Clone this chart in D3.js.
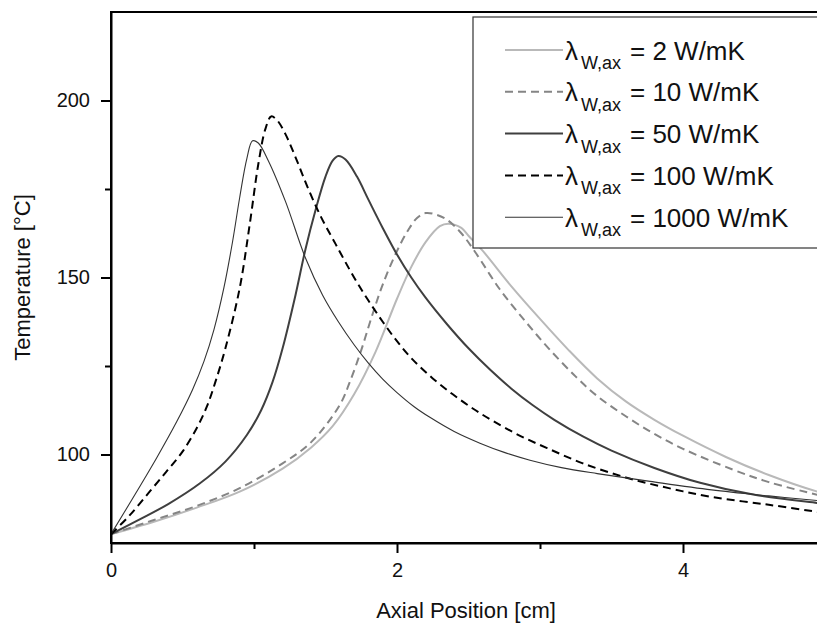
<!DOCTYPE html>
<html>
<head>
<meta charset="utf-8">
<script src="https://cdn.jsdelivr.net/npm/d3@7"></script>
<style>
    body { margin: 0; background: #fff; }
    text { font-family: "Liberation Sans", Arial, sans-serif; }
</style>
</head>
<body>
<svg id="chart" width="817" height="628"></svg>
<script>
// axial position [cm], temperature [°C]
const lambda2 = [[0, 77.5], [0.3, 81], [0.6, 85], [0.9, 89.5], [1.2, 96], [1.4, 102], [1.55, 108], [1.7, 117],
    [1.85, 129], [2.0, 144], [2.1, 153], [2.2, 160], [2.3, 164.5], [2.36, 165.2], [2.45, 164], [2.5, 161.8],
    [2.6, 157.5], [2.8, 147.5], [3.0, 138.3], [3.2, 129.5], [3.4, 121.5], [3.6, 115], [3.8, 109.8], [4.0, 105.3],
    [4.3, 99.3], [4.6, 94.2], [4.94, 89.5], [5, 88.9]]
const lambda10 = [[0, 77.5], [0.3, 81.5], [0.6, 85.5], [0.9, 90.5], [1.2, 97.5], [1.4, 103.5], [1.6, 114], [1.67, 120.5],
    [1.75, 129.5], [1.82, 138.5], [1.9, 148], [2.0, 157.5], [2.08, 163.5], [2.14, 166.8], [2.2, 168.2], [2.27, 167.8],
    [2.35, 166.3], [2.45, 162.5], [2.55, 157], [2.72, 146.6], [2.9, 137.5], [3.06, 130], [3.25, 122], [3.4, 116.5],
    [3.6, 110.8], [3.8, 105.8], [4.0, 101.6], [4.35, 95.7], [4.6, 92.2], [4.94, 88.6], [5, 88]]
const lambda50 = [[0, 77.5], [0.15, 80.6], [0.4, 86], [0.62, 91.8], [0.8, 98], [0.95, 105.5], [1.05, 112.5], [1.13, 120.5],
    [1.2, 130], [1.29, 145], [1.36, 158], [1.43, 169], [1.5, 178.5], [1.55, 183], [1.59, 184.3], [1.64, 183.3],
    [1.72, 178.5], [1.8, 172], [1.9, 164], [2.0, 156.5], [2.1, 150], [2.2, 144.3], [2.35, 136.8], [2.5, 130],
    [2.65, 124], [2.8, 118.6], [2.95, 113.9], [3.1, 109.8], [3.3, 105.1], [3.5, 101.1], [3.8, 96.2], [4.12, 92],
    [4.5, 88.6], [4.94, 86.3], [5, 86]]
const lambda100 = [[0, 77.5], [0.13, 82.8], [0.27, 89.5], [0.39, 95.3], [0.5, 100.8], [0.6, 107.5], [0.67, 113.5], [0.73, 120.5],
    [0.8, 130], [0.9, 147], [0.97, 165], [1.03, 182], [1.08, 192], [1.12, 195.5], [1.16, 194.5], [1.22, 190.5],
    [1.3, 183], [1.38, 175], [1.47, 167], [1.57, 159.5], [1.7, 150], [1.8, 143.5], [1.9, 137.5], [2.0, 132],
    [2.11, 126.8], [2.25, 121.5], [2.39, 117], [2.53, 113], [2.67, 109.5], [2.85, 105.5], [3.05, 101.8], [3.3, 97.5],
    [3.6, 93.5], [3.9, 90.5], [4.2, 88], [4.6, 85.8], [4.94, 83.8], [5, 83.5]]
const lambda1000 = [[0, 77.5], [0.15, 87.5], [0.32, 99.1], [0.46, 109.3], [0.57, 118.3], [0.65, 126.3], [0.72, 135.3], [0.79, 147.2],
    [0.85, 160.1], [0.9, 172.6], [0.95, 183.6], [0.99, 188.6], [1.03, 188], [1.1, 183], [1.22, 171.5], [1.36, 155.5],
    [1.48, 145], [1.59, 137.5], [1.7, 131], [1.8, 125.8], [1.9, 121.3], [2.0, 117.5], [2.12, 113.5], [2.23, 110.5],
    [2.4, 106.5], [2.58, 103.2], [2.75, 100.6], [2.93, 98.4], [3.15, 96.3], [3.4, 94.6], [3.77, 92.4], [4.2, 90],
    [4.6, 88.3], [4.94, 87], [5, 86.8]]

const legendValues = ['2', '10', '50', '100', '1000']
const xTicks = [0, 2, 4]
const xMinorTicks = [1, 3]
const yTicks = [100, 150, 200]
const yMinorTicks = [125, 175]

const seriesStyles = [
    { data: lambda2, color: '#b9b9b9', width: 2, dash: null },
    { data: lambda10, color: '#858585', width: 2, dash: '8,5' },
    { data: lambda50, color: '#3f3f3f', width: 2, dash: null },
    { data: lambda100, color: '#000', width: 2, dash: '8,5' },
    { data: lambda1000, color: '#333', width: 1.1, dash: null }
]

const svg = d3.select('#chart')
const plot = { left: 111, right: 826, top: 12, bottom: 543 }

const x = d3.scaleLinear().domain([0, 5]).range([plot.left, plot.right])
const y = d3.scaleLinear().domain([75, 225]).range([plot.bottom, plot.top])

svg.append('rect').attr('width', 817).attr('height', 628).attr('fill', '#fff')

svg.append('clipPath').attr('id', 'plot-clip')
    .append('rect')
    .attr('x', plot.left).attr('y', plot.top)
    .attr('width', plot.right - plot.left).attr('height', plot.bottom - plot.top)

const line = d3.line()
    .x(d => x(d[0]))
    .y(d => y(d[1]))
    .curve(d3.curveCatmullRom.alpha(0.5))

svg.append('g')
    .attr('clip-path', 'url(#plot-clip)')
    .selectAll('path')
    .data(seriesStyles)
    .join('path')
    .attr('d', d => line(d.data))
    .attr('fill', 'none')
    .attr('stroke', d => d.color)
    .attr('stroke-width', d => d.width)
    .attr('stroke-dasharray', d => d.dash)

// frame
svg.append('rect')
    .attr('x', plot.left).attr('y', plot.top)
    .attr('width', plot.right - plot.left).attr('height', plot.bottom - plot.top)
    .attr('fill', 'none')
    .attr('stroke', '#000')
    .attr('stroke-width', 2)

const styleAxis = (g, fontSize) => {
    g.selectAll('path, line').attr('stroke', '#000').attr('stroke-width', 2)
    g.selectAll('text').attr('font-size', fontSize).attr('fill', '#111')
        .style('font-family', '"Liberation Sans", Arial, sans-serif')
}

svg.append('g')
    .attr('transform', `translate(0, ${plot.bottom})`)
    .call(d3.axisBottom(x).tickValues(xTicks).tickFormat(d3.format('d')).tickSize(10).tickSizeOuter(0).tickPadding(10))
    .call(g => styleAxis(g, 20))

svg.append('g')
    .attr('transform', `translate(0, ${plot.bottom})`)
    .call(d3.axisBottom(x).tickValues(xMinorTicks).tickSize(6).tickFormat(''))
    .call(g => g.select('.domain').remove())
    .call(g => styleAxis(g, 20))

svg.append('g')
    .attr('transform', `translate(${plot.left}, 0)`)
    .call(d3.axisLeft(y).tickValues(yTicks).tickFormat(d3.format('d')).tickSize(10).tickSizeOuter(0).tickPadding(11))
    .call(g => styleAxis(g, 20))

svg.append('g')
    .attr('transform', `translate(${plot.left}, 0)`)
    .call(d3.axisLeft(y).tickValues(yMinorTicks).tickSize(6).tickFormat(''))
    .call(g => g.select('.domain').remove())
    .call(g => styleAxis(g, 20))

svg.append('text')
    .attr('x', 466).attr('y', 618)
    .attr('text-anchor', 'middle')
    .attr('font-size', 22)
    .attr('fill', '#111')
    .text('Axial Position [cm]')

svg.append('text')
    .attr('transform', `translate(30, ${(plot.top + plot.bottom) / 2}) rotate(-90)`)
    .attr('text-anchor', 'middle')
    .attr('font-size', 22)
    .attr('fill', '#111')
    .text('Temperature [°C]')

// legend
const legend = svg.append('g')
legend.append('rect')
    .attr('x', 473).attr('y', 17)
    .attr('width', 400).attr('height', 231)
    .attr('fill', '#fff')
    .attr('stroke', '#333')
    .attr('stroke-width', 1.2)

const rowY = i => 50 + i * 41.8

legend.selectAll('g.item')
    .data(seriesStyles)
    .join('g')
    .classed('item', true)
    .each((d, i, nodes) => {
        const item = d3.select(nodes[i])
        const cy = rowY(i)
        item.append('line')
            .attr('x1', 505).attr('x2', 563)
            .attr('y1', cy).attr('y2', cy)
            .attr('stroke', d.color)
            .attr('stroke-width', d.width)
            .attr('stroke-dasharray', d.dash)
        item.append('text')
            .attr('x', 565).attr('y', cy + 9.5)
            .attr('font-size', 26)
            .attr('fill', '#111')
            .text('λ')
        item.append('text')
            .attr('x', 581).attr('y', cy + 19)
            .attr('font-size', 18)
            .attr('fill', '#111')
            .text('W,ax')
        item.append('text')
            .attr('x', 630).attr('y', cy + 9.5)
            .attr('font-size', 26)
            .attr('fill', '#111')
            .text(`= ${legendValues[i]} W/mK`)
    })
</script>
</body>
</html>
